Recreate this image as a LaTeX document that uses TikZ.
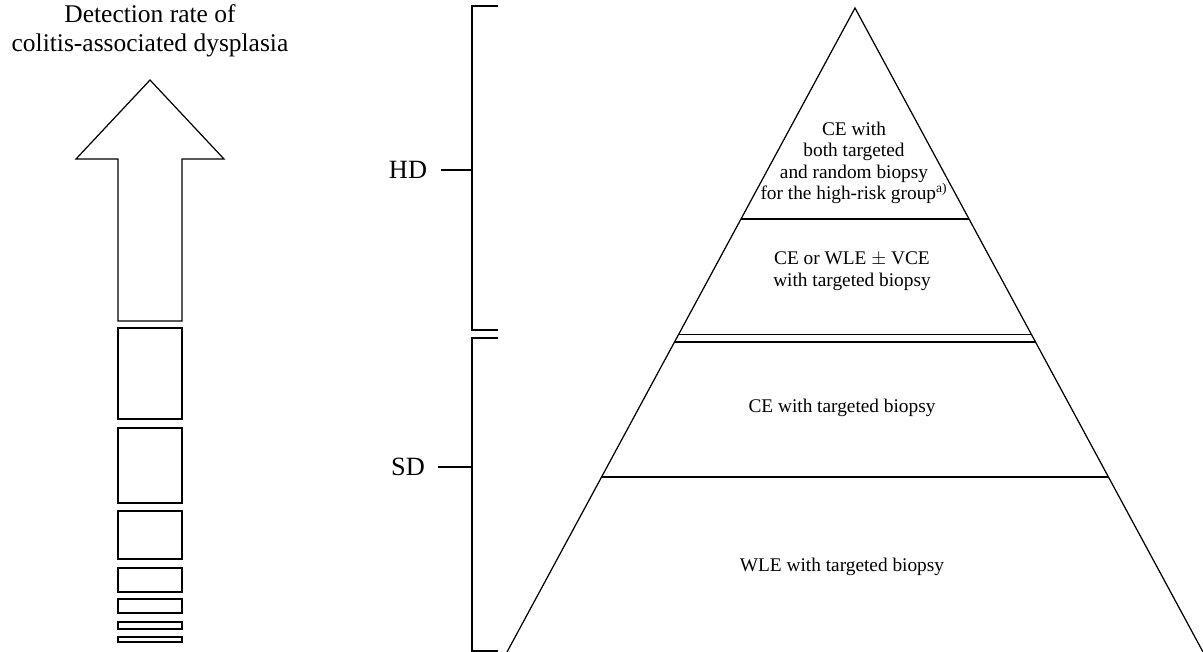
\documentclass[tikz,border=0pt]{standalone}
\usepackage{fontspec}
\setmainfont{Liberation Serif}
\usetikzlibrary{calc}

\begin{document}
\begin{tikzpicture}[x=0.02cm, y=-0.02cm, line width=0.7pt,
    layertext/.style={align=center, font=\fontsize{11}{12.2}\selectfont},
    sidelabel/.style={font=\fontsize{15}{18}\selectfont, inner sep=0pt}]
    \useasboundingbox (0,0) rectangle (1203,652);

    % left arrow with the broken shaft
    \node[align=center, font=\fontsize{14.5}{16.5}\selectfont] (title) at (150,31) {Detection rate of\\colitis-associated dysplasia};
    \draw (150,80) -- (224,159) -- (182,159) -- (182,321) -- (118,321) -- (118,159) -- (76,159) -- cycle;
    \foreach \ya/\yb in {328/419,428/503,511/559,568/592,599/613,622/629,637/642}
        \draw (118,\ya) rectangle (182,\yb);

    % pyramid
    \coordinate (apex) at (855,8);
    \coordinate (bl) at (507,652);
    \coordinate (br) at (1203,652);
    \draw (bl) -- (apex) -- (br);
    \foreach \t in {0.3276,0.507,0.5186,0.7283}
        \draw ($(apex)!\t!(bl)$) -- ($(apex)!\t!(br)$);
    \node[layertext] (top) at (854,163) {CE with\\both targeted\\and random biopsy\\for the high-risk group\textsuperscript{a)}};
    \node[layertext] (mid) at (852,271) {CE or WLE $\pm$ VCE\\with targeted biopsy};
    \node[layertext] (ce) at (842,408) {CE with targeted biopsy};
    \node[layertext] (wle) at (842,567) {WLE with targeted biopsy};

    % brackets
    \draw (498,6) -- (472,6) -- (472,330) -- (498,330);
    \draw (498,338) -- (472,338) -- (472,651) -- (498,651);
    \coordinate (hdtick) at (472,170);
    \coordinate (sdtick) at (472,467);
    \node[sidelabel] (hd) at (408,170) {HD};
    \node[sidelabel] (sd) at (408,467) {SD};
    \draw[shorten <=0.26cm] (hd.east) -- (hdtick);
    \draw[shorten <=0.26cm] (sd.east) -- (sdtick);
\end{tikzpicture}
\end{document}
